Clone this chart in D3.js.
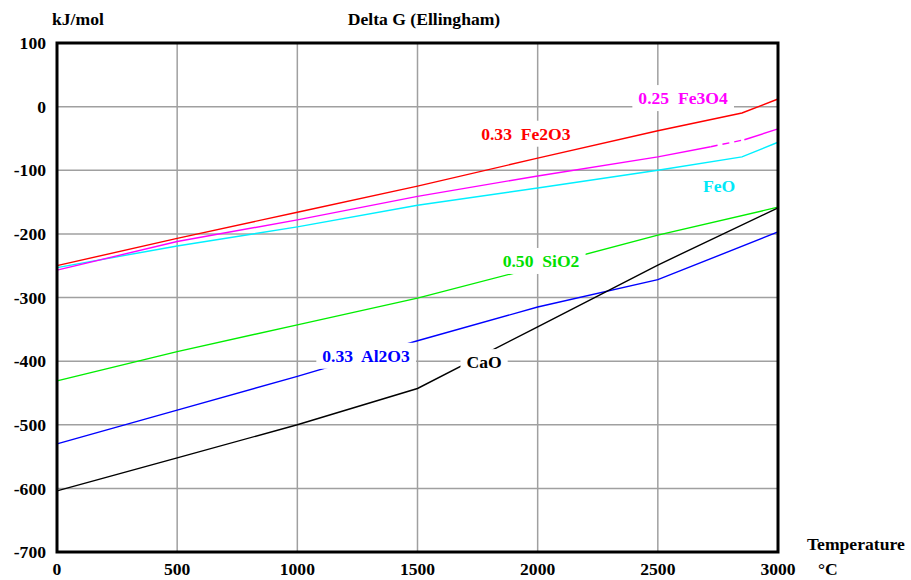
<!DOCTYPE html>
<html>
<head>
<meta charset="utf-8">
<script src="https://cdn.jsdelivr.net/npm/d3@7"></script>
<style>
body { margin: 0; background: #fff; }
text { font-family: "Liberation Serif", "Times New Roman", serif; font-weight: bold; font-size: 17.6px; }
</style>
</head>
<body>
<div id="chart"></div>
<script>
// values (kJ/mol vs temperature in °C)
const temps = [0, 500, 1000, 1500, 2000, 2500, 3000];
const xTicks = [0, 500, 1000, 1500, 2000, 2500, 3000];
const yTicks = [100, 0, -100, -200, -300, -400, -500, -600, -700];

const tempsFe2O3 = [0, 500, 1000, 1500, 2000, 2500, 2850, 3000];
const fe2o3 = [-250, -207, -166, -125, -81, -38, -10, 12];
const tempsFe3O4 = [0, 500, 1000, 1500, 2000, 2500, 2720, 2860, 3000];
const fe3o4 = [-257, -212, -178, -141, -109, -79, -63, -52, -35];
const tempsFeO = [0, 500, 1000, 1500, 2000, 2500, 2850, 3000];
const feo = [-253, -219, -189, -155, -128, -100, -79, -56];
const sio2 = [-431, -385, -343, -301, -252, -202, -158];
const al2o3 = [-530, -477, -424, -368, -315, -272, -197];
const cao = [-604, -552, -500, -443, -346, -249, -159];

const labelNames = ["0.33  Fe2O3", "0.25  Fe3O4", "FeO", "0.50  SiO2", "0.33  Al2O3", "CaO"];

const widthChart = 911, heightChart = 580;
const plotLeft = 57, plotTop = 43, plotRight = 778, plotBottom = 552;

const x = d3.scaleLinear().domain([0, 3000]).range([plotLeft, plotRight]);
const y = d3.scaleLinear().domain([-700, 100]).range([plotBottom, plotTop]);

const svg = d3.select("#chart").append("svg")
    .attr("width", widthChart)
    .attr("height", heightChart);

// grid
svg.append("g")
    .selectAll("line")
    .data(yTicks)
    .enter()
    .append("line")
    .attr("x1", plotLeft).attr("x2", plotRight)
    .attr("y1", d => y(d)).attr("y2", d => y(d))
    .attr("stroke", "#a0a0a0")
    .attr("stroke-width", 1.5);

svg.append("g")
    .selectAll("line")
    .data(xTicks)
    .enter()
    .append("line")
    .attr("x1", d => x(d)).attr("x2", d => x(d))
    .attr("y1", plotTop).attr("y2", plotBottom)
    .attr("stroke", "#a0a0a0")
    .attr("stroke-width", 1.5);

const line = d3.line()
    .x(d => x(d[0]))
    .y(d => y(d[1]));

function pairs(ts, vs) {
    return ts.map((t, i) => [t, vs[i]]);
}

const series = [
    { pts: pairs(tempsFe2O3, fe2o3), color: "#ff0000" },
    { pts: pairs(tempsFeO, feo), color: "#00f0ff" },
    { pts: pairs(temps, sio2), color: "#00ee00" },
    { pts: pairs(temps, al2o3), color: "#0000ff" },
    { pts: pairs(temps, cao), color: "#000000" }
];

series.forEach(s => {
    svg.append("path")
        .attr("d", line(s.pts))
        .attr("fill", "none")
        .attr("stroke", s.color)
        .attr("stroke-width", 1.4);
});

// Fe3O4: solid, then a dashed stretch near the top end, then solid again
const fe3o4Pts = pairs(tempsFe3O4, fe3o4);
const pieces = [
    { pts: fe3o4Pts.filter(p => p[0] <= 2720), dash: null },
    { pts: fe3o4Pts.filter(p => p[0] >= 2720 && p[0] <= 2860), dash: "7,5" },
    { pts: fe3o4Pts.filter(p => p[0] >= 2860), dash: null }
];
pieces.forEach(p => {
    svg.append("path")
        .attr("d", line(p.pts))
        .attr("fill", "none")
        .attr("stroke", "#ff00ff")
        .attr("stroke-width", 1.4)
        .attr("stroke-dasharray", p.dash);
});

// labels on white boxes, placed in data units
const labelSpots = [
    { t: 1951, v: -52, color: "#ff0000" },
    { t: 2605, v: 4, color: "#ff00ff" },
    { t: 2755, v: -134, color: "#00e8f8" },
    { t: 2014, v: -252, color: "#00e000" },
    { t: 1286, v: -401, color: "#0000ff" },
    { t: 1777, v: -411, color: "#000000" }
];

labelSpots.forEach((l, i) => {
    const g = svg.append("g");
    const txt = g.append("text")
        .attr("x", x(l.t))
        .attr("y", y(l.v))
        .attr("text-anchor", "middle")
        .attr("fill", l.color)
        .style("white-space", "pre")
        .text(labelNames[i]);
    const bb = txt.node().getBBox();
    g.insert("rect", "text")
        .attr("x", bb.x - 6)
        .attr("y", bb.y - 3)
        .attr("width", bb.width + 12)
        .attr("height", bb.height + 6)
        .attr("fill", "#fff");
});

// frame
svg.append("rect")
    .attr("x", plotLeft).attr("y", plotTop)
    .attr("width", plotRight - plotLeft).attr("height", plotBottom - plotTop)
    .attr("fill", "none")
    .attr("stroke", "#000")
    .attr("stroke-width", 3);

// tick labels
svg.append("g")
    .selectAll("text")
    .data(yTicks)
    .enter()
    .append("text")
    .attr("x", 46)
    .attr("y", d => y(d))
    .attr("dy", "0.35em")
    .attr("text-anchor", "end")
    .text(d => d);

svg.append("g")
    .selectAll("text")
    .data(xTicks)
    .enter()
    .append("text")
    .attr("x", d => x(d))
    .attr("y", 575)
    .attr("text-anchor", "middle")
    .text(d => d);

svg.append("text").attr("x", 52).attr("y", 25).text("kJ/mol");
svg.append("text").attr("x", 424).attr("y", 25).attr("text-anchor", "middle").text("Delta G (Ellingham)");
svg.append("text").attr("x", 807).attr("y", 550).text("Temperature");
svg.append("text").attr("x", 818).attr("y", 575).text("°C");
</script>
</body>
</html>
